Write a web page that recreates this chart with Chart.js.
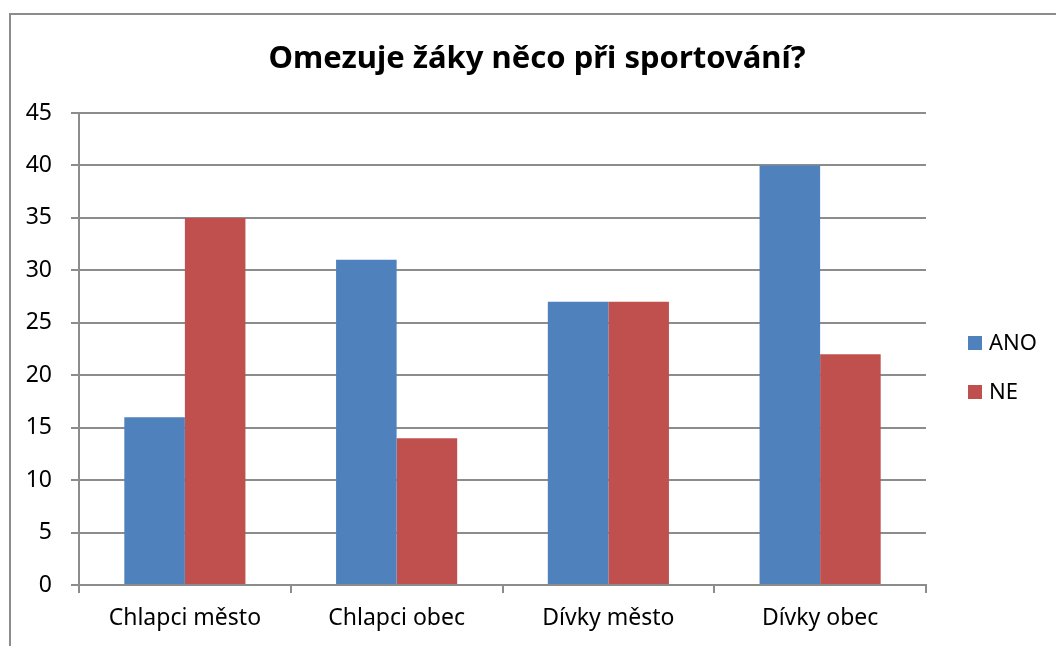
<!DOCTYPE html>
<html lang="cs">
<head>
<meta charset="UTF-8">
<title>Omezuje žáky něco při sportování?</title>
<script src="https://cdn.jsdelivr.net/npm/chart.js"></script>
<style>
  html, body { margin: 0; padding: 0; background: #fff; }
  #wrap { width: 1056px; height: 646px; position: relative; }
</style>
</head>
<body>
<div id="wrap"><canvas id="chart"></canvas></div>
<script>
const titleText = 'Omezuje žáky něco při sportování?';
const categories = ['Chlapci město', 'Chlapci obec', 'Dívky město', 'Dívky obec'];
const seriesNames = ['ANO', 'NE'];
const anoValues = [16, 31, 27, 40];
const neValues = [35, 14, 27, 22];
const seriesColors = ['#4f81bd', '#c0504d'];

const FONT = "'Noto Sans', 'DejaVu Sans', sans-serif";

// frame, title and legend drawn by hand so they sit where the original has them
const decor = {
  id: 'decor',
  beforeDraw(chart) {
    const c = chart.ctx;
    c.save();
    c.fillStyle = '#fff';
    c.fillRect(0, 0, chart.width, chart.height);
    c.strokeStyle = '#8c8c8c';
    c.lineWidth = 2;
    c.strokeRect(10, 14, 1200, 800);
    c.restore();
  },
  afterDraw(chart) {
    const c = chart.ctx;
    c.save();
    c.fillStyle = '#000';
    c.font = 'bold 31px ' + FONT;
    c.textAlign = 'center';
    c.textBaseline = 'middle';
    c.fillText(titleText, 537, 59);

    c.font = '22px ' + FONT;
    c.textAlign = 'left';
    chart.data.datasets.forEach((ds, i) => {
      const y = 343 + i * 49;
      c.fillStyle = ds.backgroundColor;
      c.fillRect(968, y - 7, 14, 14);
      c.fillStyle = '#000';
      c.fillText(ds.label, 989, y + 1);
    });
    c.restore();
  }
};

new Chart(document.getElementById('chart'), {
  type: 'bar',
  data: {
    labels: categories,
    datasets: [
      { label: seriesNames[0], data: anoValues, backgroundColor: seriesColors[0] },
      { label: seriesNames[1], data: neValues, backgroundColor: seriesColors[1] }
    ]
  },
  options: {
    responsive: true,
    maintainAspectRatio: false,
    animation: false,
    layout: { padding: { top: 113, right: 130, left: 0, bottom: 0 } },
    datasets: { bar: { categoryPercentage: 0.572, barPercentage: 1.0, borderWidth: 0 } },
    plugins: {
      legend: { display: false },
      title: { display: false },
      tooltip: { enabled: false }
    },
    scales: {
      x: {
        afterFit(scale) { scale.height = 61; },
        grid: { drawOnChartArea: false, offset: true, tickLength: 8, color: '#8c8c8c', lineWidth: 2 },
        border: { color: '#8c8c8c', width: 2 },
        ticks: { color: '#000', font: { family: FONT, size: 23 }, padding: 12, maxRotation: 0 }
      },
      y: {
        min: 0,
        max: 45,
        afterFit(scale) { scale.width = 79; },
        grid: { color: '#8c8c8c', lineWidth: 2, tickLength: 8 },
        border: { color: '#8c8c8c', width: 2 },
        ticks: { stepSize: 5, color: '#000', font: { family: FONT, size: 23 }, padding: 19 }
      }
    }
  },
  plugins: [decor]
});
</script>
</body>
</html>
